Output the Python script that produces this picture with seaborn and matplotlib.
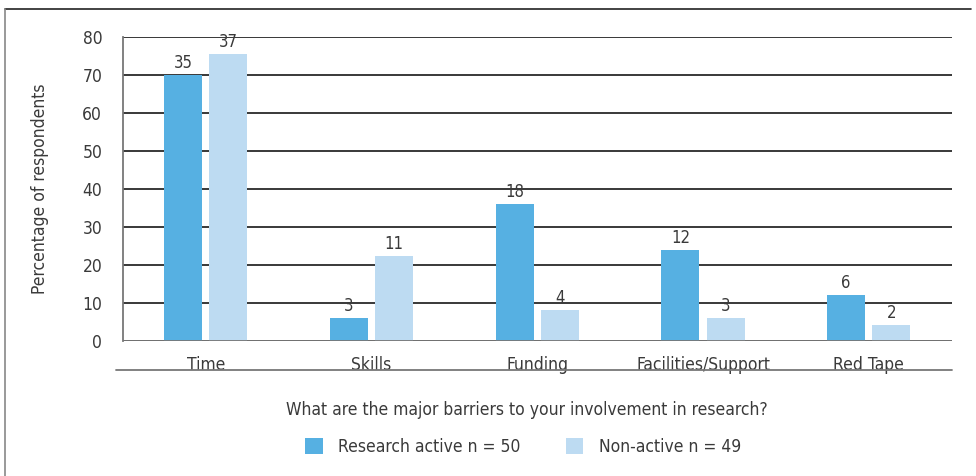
import pandas as pd
import matplotlib.pyplot as plt
import seaborn as sns
from matplotlib.lines import Line2D
from matplotlib.patches import Patch

# Données
barrieres = ["Time", "Skills", "Funding", "Facilities/Support", "Red Tape"]
groupes = ["Research active n = 50", "Non-active n = 49"]
pct_actifs = [70, 6, 36, 24, 12]
pct_non_actifs = [75.5, 22.4, 8.2, 6.1, 4.1]
n_actifs = [35, 3, 18, 12, 6]
n_non_actifs = [37, 11, 4, 3, 2]
y_ticks = [0, 10, 20, 30, 40, 50, 60, 70, 80]

df = pd.DataFrame({
    "Barrier": barrieres * 2,
    "Group": [groupes[0]] * 5 + [groupes[1]] * 5,
    "Pct": pct_actifs + pct_non_actifs,
})

sns.set_style("white")
plt.rcParams['font.family'] = ['Liberation Sans Narrow', 'DejaVu Sans']
plt.rcParams['font.stretch'] = 'condensed'
texte = "#3a3a3a"
couleurs = ["#56B0E2", "#BDDBF2"]

fig = plt.figure(figsize=(9.76, 4.76), dpi=100)
ax = fig.add_axes([0.126, 0.284, 0.849, 0.638])

sns.barplot(data=df, x="Barrier", y="Pct", hue="Group", order=barrieres,
            hue_order=groupes, palette=couleurs, width=0.545, gap=0.16,
            saturation=1, legend=False, linewidth=0, ax=ax)

for cont, lab in zip(ax.containers, [n_actifs, n_non_actifs]):
    ax.bar_label(cont, labels=[str(v) for v in lab], padding=2,
                 fontsize=12, color=texte)

ax.set_xlim(-0.5, 4.5)
ax.set_ylim(0, 80)
ax.set_yticks(y_ticks)
ax.yaxis.grid(True, color="#383838", linewidth=1.4)
ax.set_axisbelow(True)
for s in ["top", "right", "bottom"]:
    ax.spines[s].set_visible(False)
ax.spines["left"].set_color("#777777")
ax.spines["left"].set_linewidth(1.3)

# ticks aux frontières des catégories
ax.set_xticks([i - 0.5 for i in range(6)])
ax.set_xticks(range(5), minor=True)
ax.set_xticklabels([])
ax.set_xticklabels(barrieres, minor=True, fontsize=12.5, color=texte)
ax.tick_params(axis="x", which="major", length=6, width=1.3, color="#777777", direction="out")
ax.tick_params(axis="x", which="minor", length=0, pad=11)
ax.tick_params(axis="y", length=7, width=1.3, color="#383838", labelsize=12.5,
               labelcolor=texte, pad=8)
ax.axhline(0, color="#777777", linewidth=1.3, zorder=3)

ax.set_xlabel("")
ax.set_ylabel("Percentage of respondents", fontsize=12.5, color=texte, labelpad=24)

# ligne sous les étiquettes
fig.add_artist(Line2D([0.119, 0.975], [1 - 370 / 476] * 2, color="#777777", linewidth=1.3))
fig.text(0.54, 1 - 410 / 476, "What are the major barriers to your involvement in research?",
         ha="center", va="center", fontsize=12.5, color=texte)

poignees = [Patch(facecolor=c, edgecolor="none") for c in couleurs]
fig.legend(poignees, groupes, loc="center", bbox_to_anchor=(0.536, 1 - 447 / 476),
           ncol=2, frameon=False, fontsize=12.5, labelcolor=texte,
           handlelength=1.0, handleheight=1.0, handletextpad=0.9, columnspacing=2.6)

# cadre
fig.add_artist(Line2D([5 / 976, 971 / 976], [1 - 9 / 476] * 2, color="#222222", linewidth=1.2))
fig.add_artist(Line2D([5 / 976, 5 / 976], [0, 1 - 9 / 476], color="#888888", linewidth=1.2))

fig.savefig("out.png", dpi=100)
